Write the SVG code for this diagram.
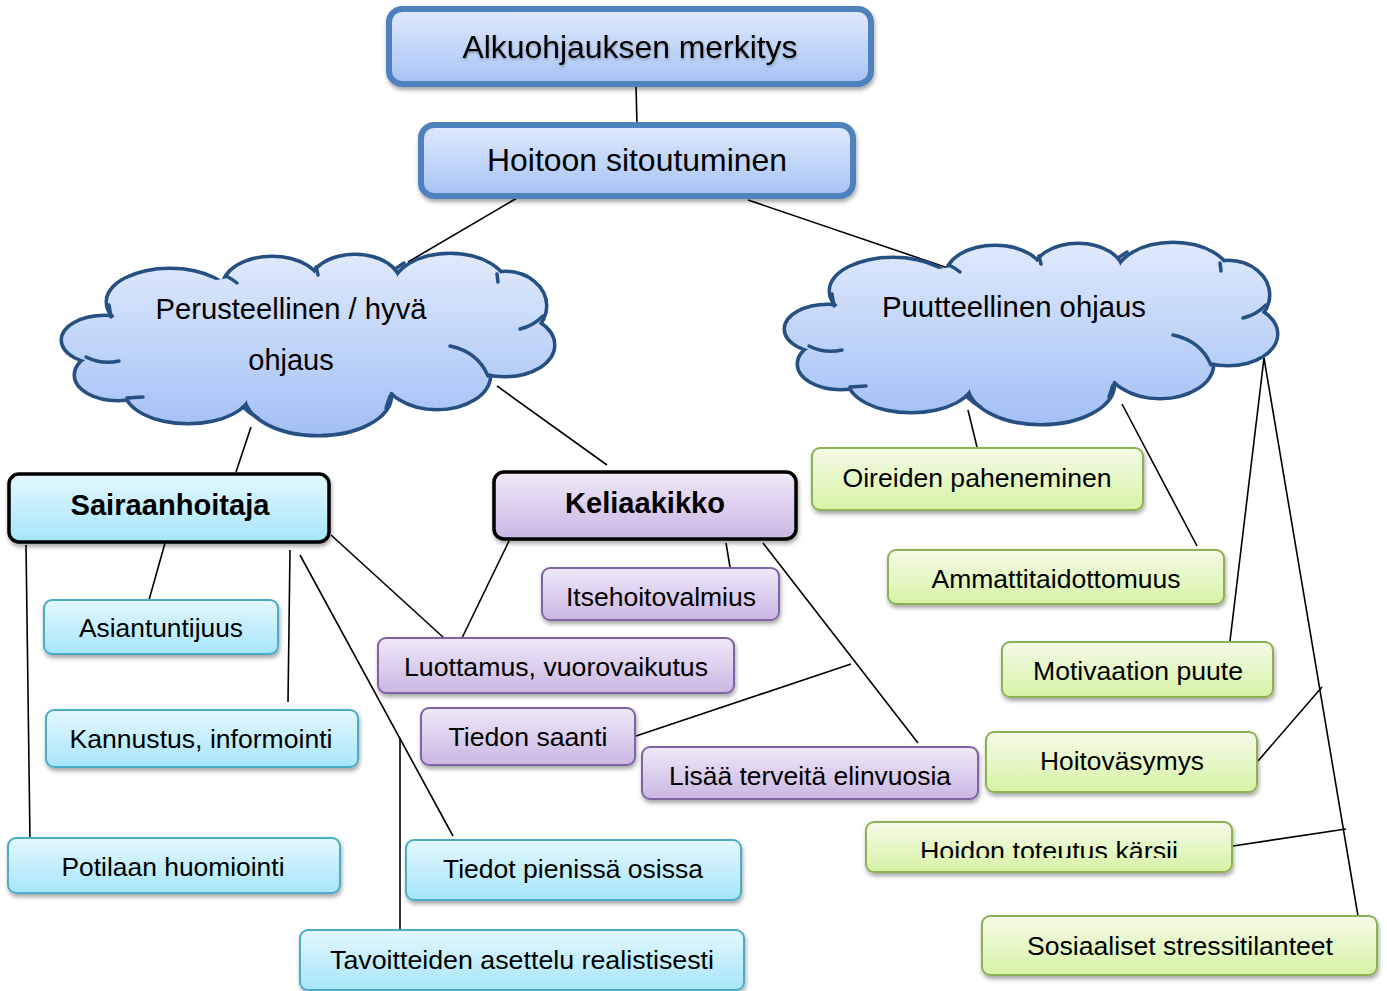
<svg xmlns="http://www.w3.org/2000/svg" xmlns:xlink="http://www.w3.org/1999/xlink" width="1387" height="991" viewBox="0 0 1387 991">
<style>
text{font-family:"Liberation Sans",Arial,sans-serif;fill:#000;text-anchor:middle}
.t32{font-size:32px}
.t29{font-size:29px}
.tb{font-size:29px;font-weight:bold}
.t26{font-size:26px}
.top{fill:url(#gBlue);stroke:#4F81BD;stroke-width:6;filter:url(#sh)}
.main-c{fill:url(#gCyan);stroke:#000;stroke-width:3.5;filter:url(#sh)}
.main-p{fill:url(#gPurple);stroke:#000;stroke-width:3.5;filter:url(#sh)}
.c{fill:url(#gCyan);stroke:#4BACC6;stroke-width:2;filter:url(#sh)}
.p{fill:url(#gPurple);stroke:#8064A2;stroke-width:2;filter:url(#sh)}
.g{fill:url(#gGreen);stroke:#8DB255;stroke-width:2;filter:url(#sh)}
.cs ellipse{stroke:#264F82;stroke-width:7}
.cf ellipse{fill:url(#gCloud)}
.ci path{fill:none;stroke:#264F82;stroke-width:3.5;stroke-linecap:round}
#connectors line{stroke:#000;stroke-width:1.6}
</style>
<defs>
<linearGradient id="gBlue" x1="0" y1="0" x2="0" y2="1"><stop offset="0" stop-color="#E0EAFC"/><stop offset="1" stop-color="#A6C3F5"/></linearGradient>
<linearGradient id="gCyan" x1="0" y1="0" x2="0" y2="1"><stop offset="0" stop-color="#E4F8FE"/><stop offset="1" stop-color="#A6E5FA"/></linearGradient>
<linearGradient id="gPurple" x1="0" y1="0" x2="0" y2="1"><stop offset="0" stop-color="#EFE9F8"/><stop offset="1" stop-color="#CAB6E3"/></linearGradient>
<linearGradient id="gGreen" x1="0" y1="0" x2="0" y2="1"><stop offset="0" stop-color="#F4FBE8"/><stop offset="1" stop-color="#D7F3A5"/></linearGradient>
<linearGradient id="gCloud" gradientUnits="userSpaceOnUse" x1="0" y1="253" x2="0" y2="434"><stop offset="0" stop-color="#E0EAFC"/><stop offset="1" stop-color="#A2C0F5"/></linearGradient>
<filter id="sh" x="-10%" y="-20%" width="125%" height="160%"><feDropShadow dx="1" dy="3" stdDeviation="2" flood-color="#000" flood-opacity="0.35"/></filter>
<filter id="tsh" x="-5%" y="-20%" width="110%" height="150%"><feDropShadow dx="0.5" dy="1.5" stdDeviation="0.8" flood-color="#000" flood-opacity="0.3"/></filter>
<clipPath id="clipHoidon"><rect x="866" y="822" width="366" height="36"/></clipPath>
<g id="cloudShape">
<g class="cs">
<ellipse cx="170" cy="302" rx="62" ry="32"/>
<ellipse cx="272" cy="287" rx="48" ry="29"/>
<ellipse cx="355" cy="284" rx="44" ry="28"/>
<ellipse cx="450" cy="288" rx="56" ry="33"/>
<ellipse cx="505" cy="306" rx="40" ry="33"/>
<ellipse cx="505" cy="345" rx="48" ry="30"/>
<ellipse cx="437" cy="375" rx="52" ry="33"/>
<ellipse cx="318" cy="395" rx="72" ry="39"/>
<ellipse cx="188" cy="390" rx="62" ry="32"/>
<ellipse cx="118" cy="375" rx="42" ry="24"/>
<ellipse cx="105" cy="340" rx="42" ry="23"/>
</g>
<g class="cf">
<ellipse cx="170" cy="302" rx="62" ry="32"/>
<ellipse cx="272" cy="287" rx="48" ry="29"/>
<ellipse cx="355" cy="284" rx="44" ry="28"/>
<ellipse cx="450" cy="288" rx="56" ry="33"/>
<ellipse cx="505" cy="306" rx="40" ry="33"/>
<ellipse cx="505" cy="345" rx="48" ry="30"/>
<ellipse cx="437" cy="375" rx="52" ry="33"/>
<ellipse cx="318" cy="395" rx="72" ry="39"/>
<ellipse cx="188" cy="390" rx="62" ry="32"/>
<ellipse cx="118" cy="375" rx="42" ry="24"/>
<ellipse cx="105" cy="340" rx="42" ry="23"/>
<ellipse cx="310" cy="335" rx="205" ry="62"/>
</g>
<g class="ci">
<path d="M86,357 Q102,365 119,361"/>
<path d="M450,346 Q478,352 488,376"/>
<path d="M520,329 Q533,326 543,316"/>
<path d="M226,276 Q232,279 237,283"/>
<path d="M316,267 L318,275"/>
<path d="M395,269 L404,263"/>
<path d="M497,274 L498,282"/>
<path d="M390,396 L386,408"/>
<path d="M243,407 Q250,414 258,418"/>
<path d="M127,398 L143,397"/>
<path d="M109,305 L111,317"/>
</g>
</g>
</defs>
<rect width="1387" height="991" fill="#fff"/>

<g id="connectors">
<line x1="636" y1="86" x2="637" y2="125"/>
<line x1="517" y1="198" x2="408" y2="262"/>
<line x1="748" y1="200" x2="948" y2="268"/>
<line x1="251" y1="427" x2="236" y2="472"/>
<line x1="497" y1="386" x2="607" y2="465"/>
<line x1="165" y1="543" x2="149" y2="600"/>
<line x1="26" y1="545" x2="30" y2="840"/>
<line x1="290" y1="550" x2="288" y2="702"/>
<line x1="300" y1="555" x2="453" y2="836"/>
<line x1="331" y1="535" x2="444" y2="638"/>
<line x1="400" y1="738" x2="400" y2="932"/>
<line x1="509" y1="541" x2="462" y2="638"/>
<line x1="726" y1="543" x2="730" y2="567"/>
<line x1="763" y1="543" x2="918" y2="743"/>
<line x1="636" y1="736" x2="851" y2="664"/>
<line x1="968" y1="410" x2="977" y2="447"/>
<line x1="1122" y1="404" x2="1197" y2="546"/>
<line x1="1264" y1="358" x2="1230" y2="641"/>
<line x1="1264" y1="358" x2="1358" y2="916"/>
<line x1="1258" y1="761" x2="1322" y2="687"/>
<line x1="1233" y1="846" x2="1346" y2="829"/>
</g>

<g id="n-alku">
<rect class="top" x="389" y="9" width="482" height="75" rx="13"/>
<text class="t32" x="630" y="58" filter="url(#tsh)" textLength="335" lengthAdjust="spacingAndGlyphs">Alkuohjauksen merkitys</text>
</g>
<g id="n-hoitoon">
<rect class="top" x="421" y="125" width="432" height="71" rx="13"/>
<text class="t32" x="637" y="171" textLength="300" lengthAdjust="spacingAndGlyphs">Hoitoon sitoutuminen</text>
</g>
<g id="n-perusteellinen">
<use href="#cloudShape" xlink:href="#cloudShape"/>
<text class="t29" x="291" y="319" textLength="271" lengthAdjust="spacingAndGlyphs">Perusteellinen / hyvä</text>
<text class="t29" x="291" y="370">ohjaus</text>
</g>
<g id="n-puutteellinen">
<use href="#cloudShape" xlink:href="#cloudShape" transform="translate(723,-11)"/>
<text class="t29" x="1014" y="317" textLength="264" lengthAdjust="spacingAndGlyphs">Puutteellinen ohjaus</text>
</g>
<g id="n-sairaanhoitaja">
<rect class="main-c" x="9" y="474" width="320" height="68" rx="10"/>
<text class="tb" x="170" y="515" textLength="199" lengthAdjust="spacingAndGlyphs">Sairaanhoitaja</text>
</g>
<g id="n-keliaakikko">
<rect class="main-p" x="494" y="472" width="302" height="67" rx="10"/>
<text class="tb" x="645" y="513" textLength="160" lengthAdjust="spacingAndGlyphs">Keliaakikko</text>
</g>

<g id="n-asiantuntijuus">
<rect class="c" x="44" y="600" width="234" height="54" rx="8"/>
<text class="t26" x="161" y="637" textLength="164" lengthAdjust="spacingAndGlyphs">Asiantuntijuus</text>
</g>
<g id="n-kannustus">
<rect class="c" x="46" y="710" width="312" height="57" rx="8"/>
<text class="t26" x="201" y="748" textLength="263" lengthAdjust="spacingAndGlyphs">Kannustus, informointi</text>
</g>
<g id="n-potilaan">
<rect class="c" x="8" y="838" width="332" height="55" rx="8"/>
<text class="t26" x="173" y="876" textLength="223" lengthAdjust="spacingAndGlyphs">Potilaan huomiointi</text>
</g>
<g id="n-tiedot">
<rect class="c" x="406" y="840" width="335" height="60" rx="8"/>
<text class="t26" x="573" y="878" textLength="260" lengthAdjust="spacingAndGlyphs">Tiedot pienissä osissa</text>
</g>
<g id="n-tavoitteiden">
<rect class="c" x="300" y="930" width="444" height="60" rx="8"/>
<text class="t26" x="522" y="969" textLength="384" lengthAdjust="spacingAndGlyphs">Tavoitteiden asettelu realistisesti</text>
</g>

<g id="n-itsehoito">
<rect class="p" x="542" y="568" width="237" height="52" rx="8"/>
<text class="t26" x="661" y="606" textLength="190" lengthAdjust="spacingAndGlyphs">Itsehoitovalmius</text>
</g>
<g id="n-luottamus">
<rect class="p" x="378" y="638" width="356" height="55" rx="8"/>
<text class="t26" x="556" y="676" textLength="304" lengthAdjust="spacingAndGlyphs">Luottamus, vuorovaikutus</text>
</g>
<g id="n-tiedon">
<rect class="p" x="421" y="708" width="214" height="57" rx="8"/>
<text class="t26" x="528" y="746" textLength="159" lengthAdjust="spacingAndGlyphs">Tiedon saanti</text>
</g>
<g id="n-lisaa">
<rect class="p" x="642" y="747" width="336" height="52" rx="8"/>
<text class="t26" x="810" y="785" textLength="282" lengthAdjust="spacingAndGlyphs">Lisää terveitä elinvuosia</text>
</g>

<g id="n-oireiden">
<rect class="g" x="812" y="448" width="331" height="62" rx="8"/>
<text class="t26" x="977" y="487" textLength="269" lengthAdjust="spacingAndGlyphs">Oireiden paheneminen</text>
</g>
<g id="n-ammatti">
<rect class="g" x="888" y="550" width="336" height="54" rx="8"/>
<text class="t26" x="1056" y="588" textLength="249" lengthAdjust="spacingAndGlyphs">Ammattitaidottomuus</text>
</g>
<g id="n-motivaatio">
<rect class="g" x="1002" y="642" width="271" height="55" rx="8"/>
<text class="t26" x="1138" y="680" textLength="210" lengthAdjust="spacingAndGlyphs">Motivaation puute</text>
</g>
<g id="n-hoitovasymys">
<rect class="g" x="986" y="732" width="271" height="60" rx="8"/>
<text class="t26" x="1122" y="770" textLength="164" lengthAdjust="spacingAndGlyphs">Hoitoväsymys</text>
</g>
<g id="n-hoidon">
<rect class="g" x="866" y="822" width="366" height="50" rx="8"/>
<text class="t26" x="1049" y="860" clip-path="url(#clipHoidon)" textLength="258" lengthAdjust="spacingAndGlyphs">Hoidon toteutus kärsii</text>
</g>
<g id="n-sosiaaliset">
<rect class="g" x="982" y="916" width="395" height="59" rx="8"/>
<text class="t26" x="1180" y="955" textLength="306" lengthAdjust="spacingAndGlyphs">Sosiaaliset stressitilanteet</text>
</g>
</svg>
